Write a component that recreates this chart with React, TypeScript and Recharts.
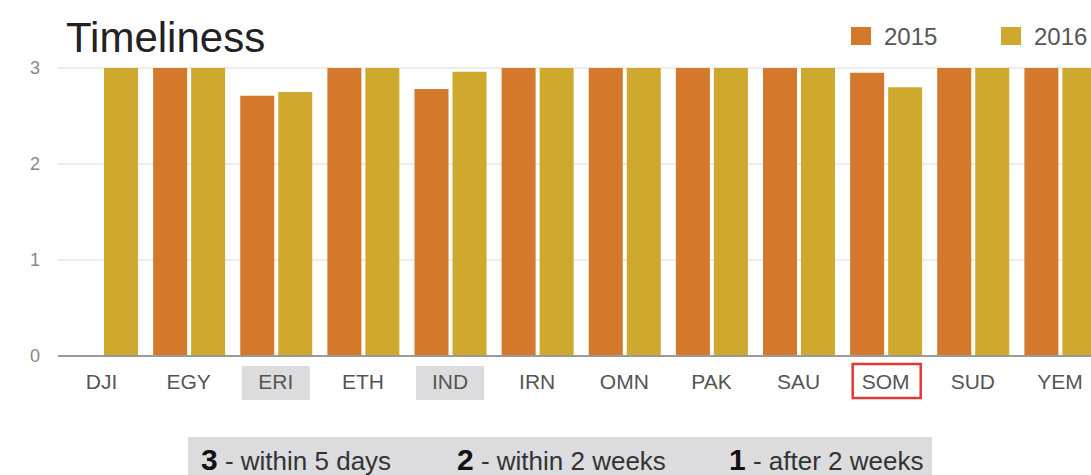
import React from 'react';
import { BarChart, Bar, XAxis, YAxis, CartesianGrid } from 'recharts';

const countries = ['DJI', 'EGY', 'ERI', 'ETH', 'IND', 'IRN', 'OMN', 'PAK', 'SAU', 'SOM', 'SUD', 'YEM'];
const values2015 = [0, 3, 2.71, 3, 2.78, 3, 3, 3, 3, 2.95, 3, 3];
const values2016 = [3, 3, 2.75, 3, 2.96, 3, 3, 3, 3, 2.8, 3, 3];
const yTicks = [0, 1, 2, 3];
const shadedTicks = ['ERI', 'IND'];
const outlinedTicks = ['SOM'];
const footnotes = [
  { num: '3', text: ' - within 5 days', x: 201 },
  { num: '2', text: ' - within 2 weeks', x: 457 },
  { num: '1', text: ' - after 2 weeks', x: 729 },
];

const C2015 = '#d4782b';
const C2016 = '#cfa92d';
const FONT = '"Liberation Sans", Arial, Helvetica, sans-serif';

const data = countries.map((c, i) => ({ code: c, y2015: values2015[i], y2016: values2016[i] }));

function CountryTick(props: any) {
  const { x, y, payload } = props;
  const label = payload.value as string;
  const shaded = shadedTicks.includes(label);
  const outlined = outlinedTicks.includes(label);
  return (
    <g>
      {shaded && <rect x={x - 34} y={y + 10} width={68} height={34} fill="#dcdcde" />}
      {outlined && (
        <rect x={x - 33} y={y + 8} width={68} height={34} fill="none" stroke="#e2383a" strokeWidth={2.5} />
      )}
      <text
        x={x}
        y={y + 25}
        textAnchor="middle"
        dominantBaseline="central"
        fontSize={21}
        fill="#555"
        fontFamily={FONT}
      >
        {label}
      </text>
    </g>
  );
}

export default function App() {
  return (
    <div
      style={{
        position: 'relative',
        width: 1091,
        height: 475,
        overflow: 'hidden',
        background: '#fff',
        fontFamily: FONT,
      }}
    >
      <style>{'html, body { margin: 0; padding: 0; overflow: hidden; }'}</style>
      <BarChart
        width={1117}
        height={475}
        data={data}
        margin={{ top: 68, right: 13.5, bottom: 0, left: 0 }}
        barSize={34}
        barGap={4}
      >
        <CartesianGrid vertical={false} stroke="#e6e6e6" strokeWidth={1.5} />
        <XAxis
          dataKey="code"
          height={119}
          tickLine={false}
          tickSize={0}
          tickMargin={0}
          axisLine={{ stroke: '#9a9a9a', strokeWidth: 2 }}
          tick={<CountryTick />}
          interval={0}
        />
        <YAxis
          width={58}
          domain={[0, 3]}
          ticks={yTicks}
          axisLine={false}
          tickLine={false}
          tickSize={0}
          tickMargin={18}
          tick={{ fontSize: 18, fill: '#888', fontFamily: FONT }}
        />
        <Bar dataKey="y2015" fill={C2015} isAnimationActive={false} />
        <Bar dataKey="y2016" fill={C2016} isAnimationActive={false} />
      </BarChart>
      <svg
        width={1091}
        height={475}
        style={{ position: 'absolute', left: 0, top: 0, pointerEvents: 'none' }}
      >
        <text x={66} y={52} fontSize={42} fill="#222" fontFamily={FONT}>
          Timeliness
        </text>
        <rect x={851} y={27} width={20} height={18} fill={C2015} />
        <text x={884} y={45} fontSize={24} fill="#555" fontFamily={FONT}>
          2015
        </text>
        <rect x={1001} y={27} width={20} height={18} fill={C2016} />
        <text x={1034} y={45} fontSize={24} fill="#555" fontFamily={FONT}>
          2016
        </text>
        <rect x={188} y={437} width={744} height={40} fill="#dcdcdf" />
        {footnotes.map(f => (
          <text key={f.num} x={f.x} y={470} fontFamily={FONT} fill="#333">
            <tspan fontSize={30} fontWeight="bold" fill="#111">
              {f.num}
            </tspan>
            <tspan fontSize={26}>{f.text}</tspan>
          </text>
        ))}
      </svg>
    </div>
  );
}
